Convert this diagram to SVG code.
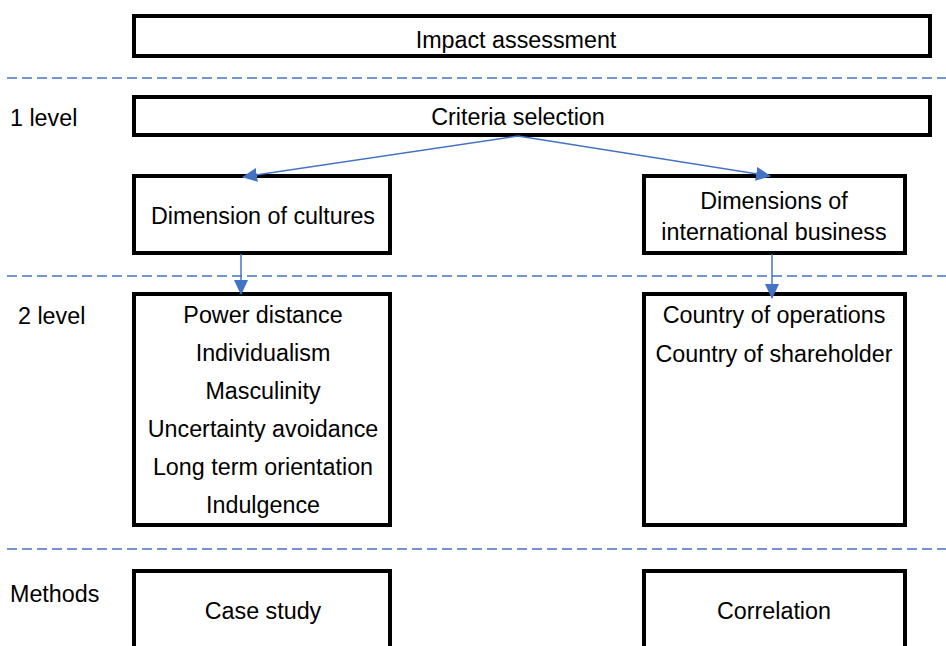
<svg xmlns="http://www.w3.org/2000/svg" width="946" height="646" viewBox="0 0 946 646">
  <style>
    .box { fill: #ffffff; stroke: #000000; stroke-width: 4; }
    .sep { stroke: #4472C4; stroke-width: 1.5; stroke-dasharray: 10 5; fill: none; }
    .conn { stroke: #4472C4; stroke-width: 1.5; fill: none; }
    text { font-family: "Liberation Sans", Arial, sans-serif; font-size: 23.3px; fill: #000000; }
    .c { text-anchor: middle; }
  </style>
  <defs>
    <marker id="arrow" viewBox="0 0 15 14" refX="14" refY="7" markerWidth="15" markerHeight="14" markerUnits="userSpaceOnUse" orient="auto">
      <path d="M0,0 L15,7 L0,14 z" fill="#4472C4"/>
    </marker>
  </defs>
  <rect width="946" height="646" fill="#ffffff"/>

  <!-- level separators -->
  <g id="separators">
    <line class="sep" x1="7" y1="78" x2="946" y2="78"/>
    <line class="sep" x1="7" y1="276" x2="946" y2="276"/>
    <line class="sep" x1="7" y1="549" x2="946" y2="549"/>
  </g>

  <!-- row labels -->
  <g id="labels">
    <text x="10" y="126">1 level</text>
    <text x="18" y="324">2 level</text>
    <text x="10" y="602">Methods</text>
  </g>

  <g id="impact">
    <rect class="box" x="134" y="16" width="796" height="40"/>
    <text class="c" x="516" y="48">Impact assessment</text>
  </g>

  <g id="criteria">
    <rect class="box" x="134" y="97" width="796" height="38"/>
    <text class="c" x="518" y="125">Criteria selection</text>
  </g>

  <g id="culture-dim">
    <rect class="box" x="134" y="176" width="256" height="77"/>
    <text class="c" x="263" y="224">Dimension of cultures</text>
  </g>

  <g id="business-dim">
    <rect class="box" x="644" y="176" width="261" height="77"/>
    <text class="c" x="774" y="209">Dimensions of</text>
    <text class="c" x="774" y="240">international business</text>
  </g>

  <g id="culture-list">
    <rect class="box" x="134" y="294" width="256" height="231"/>
    <text class="c" x="263" y="323">Power distance</text>
    <text class="c" x="263" y="361">Individualism</text>
    <text class="c" x="263" y="399">Masculinity</text>
    <text class="c" x="263" y="437">Uncertainty avoidance</text>
    <text class="c" x="263" y="475">Long term orientation</text>
    <text class="c" x="263" y="513">Indulgence</text>
  </g>

  <g id="business-list">
    <rect class="box" x="644" y="294" width="261" height="231"/>
    <text class="c" x="774" y="323">Country of operations</text>
    <text class="c" x="774" y="362">Country of shareholder</text>
  </g>

  <g id="case-study">
    <rect class="box" x="134" y="571" width="256" height="90"/>
    <text class="c" x="263" y="619">Case study</text>
  </g>

  <g id="correlation">
    <rect class="box" x="644" y="571" width="261" height="90"/>
    <text class="c" x="774" y="619">Correlation</text>
  </g>

  <!-- connectors -->
  <g id="connectors">
    <line class="conn" x1="518" y1="136" x2="243" y2="177" marker-end="url(#arrow)"/>
    <line class="conn" x1="518" y1="136" x2="770" y2="176" marker-end="url(#arrow)"/>
    <line class="conn" x1="241" y1="254" x2="241" y2="294" marker-end="url(#arrow)"/>
    <line class="conn" x1="772" y1="254" x2="772" y2="298" marker-end="url(#arrow)"/>
  </g>
</svg>
